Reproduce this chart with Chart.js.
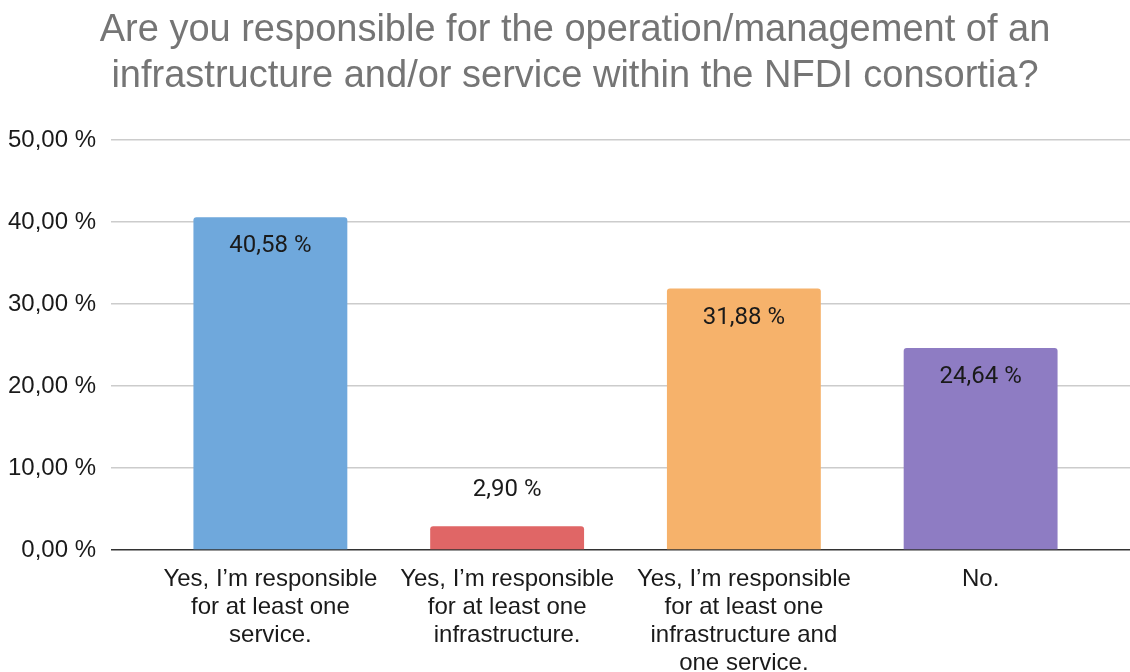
<!DOCTYPE html>
<html>
<head>
<meta charset="utf-8">
<title>NFDI infrastructure responsibility</title>
<script src="https://cdn.jsdelivr.net/npm/chart.js@4.4.1/dist/chart.umd.min.js"></script>
<style>
    html, body { margin: 0; padding: 0; background: #ffffff; }
    #wrap { width: 1130px; height: 672px; }
</style>
</head>
<body>
<div id="wrap"><canvas id="surveyChart" width="1130" height="672"></canvas></div>
<script>
// Chart data
const titleLines = [
    'Are you responsible for the operation/management of an',
    'infrastructure and/or service within the NFDI consortia?'
];
const categories = [
    ['Yes, I\u2019m responsible', 'for at least one', 'service.'],
    ['Yes, I\u2019m responsible', 'for at least one', 'infrastructure.'],
    ['Yes, I\u2019m responsible', 'for at least one', 'infrastructure and', 'one service.'],
    ['No.']
];
const shares = [40.58, 2.90, 31.88, 24.64];
const barColors = ['#6fa8dc', '#e06666', '#f6b26b', '#8e7cc3'];
const yTicks = [0, 10, 20, 30, 40, 50];

// Format as German style percentage
function formatPercent(v) {
    return v.toFixed(2).replace('.', ',') + ' %';
}

function gridColor(ctx) {
    return ctx.tick && ctx.tick.value === 0 ? '#333333' : '#cccccc';
}

// Title drawn by hand: the original is centred a bit right of the canvas middle
const titleDraw = {
    id: 'titleDraw',
    afterDraw(chart) {
        const ctx = chart.ctx;
        ctx.save();
        ctx.font = '38px "Liberation Sans"';
        ctx.fillStyle = '#757575';
        ctx.textAlign = 'center';
        ctx.textBaseline = 'middle';
        titleLines.forEach((line, i) => {
            ctx.fillText(line, 575, 31 + i * 46);
        });
        ctx.restore();
    }
};

// Value labels: inside the bar top when tall enough, otherwise above it
const valueLabels = {
    id: 'valueLabels',
    afterDatasetsDraw(chart) {
        const ctx = chart.ctx;
        const meta = chart.getDatasetMeta(0);
        ctx.save();
        ctx.font = '24px Roboto';
        ctx.fillStyle = '#1a1a1a';
        ctx.textAlign = 'center';
        ctx.textBaseline = 'middle';
        meta.data.forEach((bar, i) => {
            const h = bar.base - bar.y;
            const y = h > 60 ? bar.y + 29 : bar.y - 36;
            ctx.fillText(formatPercent(shares[i]), bar.x, y);
        });
        ctx.restore();
    }
};

new Chart(document.getElementById('surveyChart'), {
    type: 'bar',
    data: {
        labels: categories,
        datasets: [{
            data: shares,
            backgroundColor: barColors,
            borderRadius: 3,
            borderSkipped: 'start',
            categoryPercentage: 1,
            barPercentage: 0.65
        }]
    },
    options: {
        responsive: false,
        animation: false,
        layout: { padding: { left: 0, right: 0, top: 140, bottom: 0 } },
        plugins: {
            legend: { display: false },
            tooltip: { enabled: false },
            title: { display: false }
        },
        scales: {
            x: {
                grid: { display: false },
                border: { display: false },
                ticks: {
                    color: '#1a1a1a',
                    font: { family: 'Liberation Sans', size: 24, lineHeight: 1.17 },
                    padding: 7,
                    maxRotation: 0,
                    autoSkip: false
                },
                afterFit(s) { s.height = 122; }
            },
            y: {
                min: 0,
                max: 50,
                afterBuildTicks(s) { s.ticks = yTicks.map(v => ({ value: v })); },
                grid: { color: gridColor, lineWidth: 1.5, tickLength: 41 },
                border: { display: false },
                ticks: {
                    color: '#1a1a1a',
                    font: { family: 'Liberation Sans', size: 24 },
                    padding: 15,
                    callback: v => formatPercent(v)
                },
                afterFit(s) { s.width = 152; }
            },
            y2: {
                position: 'right',
                min: 0,
                max: 50,
                afterBuildTicks(s) { s.ticks = yTicks.map(v => ({ value: v })); },
                grid: { color: gridColor, lineWidth: 1.5, tickLength: 31, drawOnChartArea: false },
                border: { display: false },
                ticks: { display: false },
                afterFit(s) { s.width = 31; }
            }
        }
    },
    plugins: [valueLabels, titleDraw]
});
</script>
</body>
</html>
